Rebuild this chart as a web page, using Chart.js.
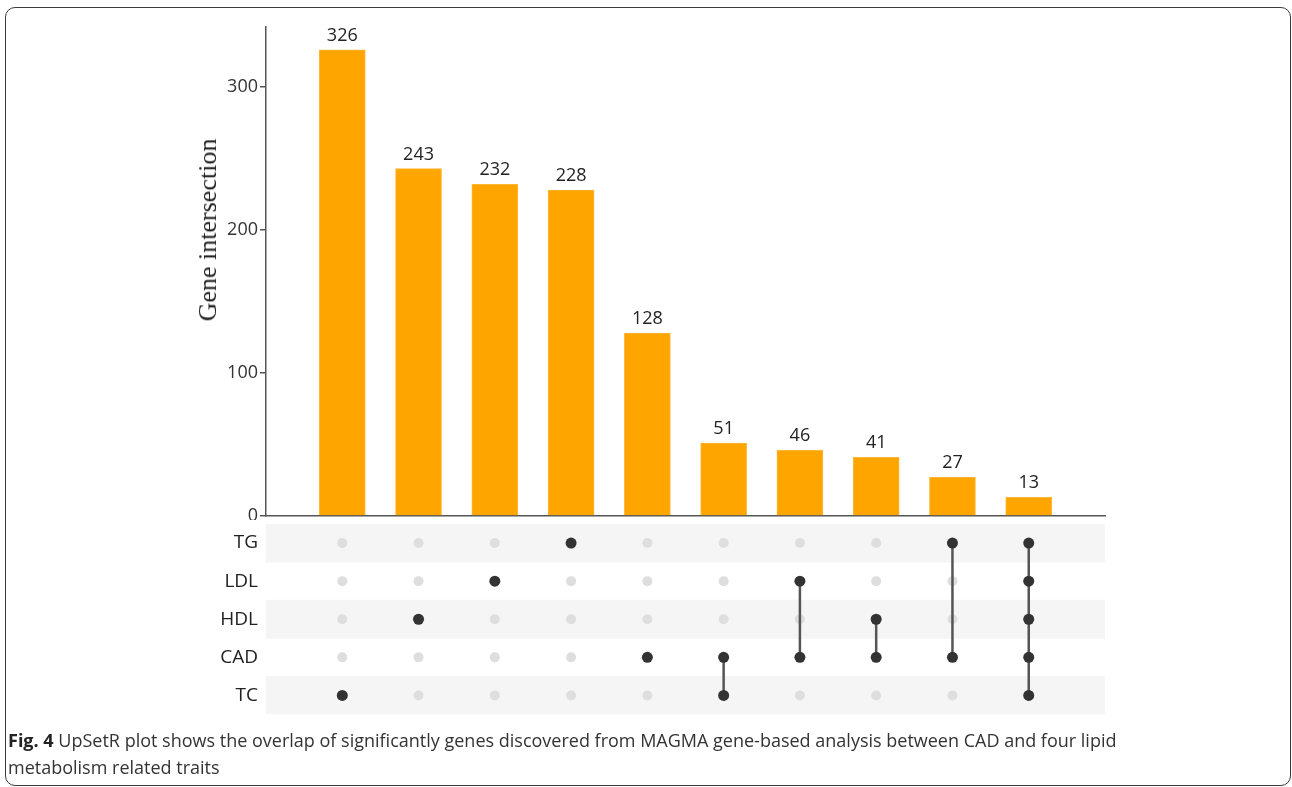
<!DOCTYPE html>
<html>
<head>
<meta charset="utf-8">
<script src="https://cdn.jsdelivr.net/npm/chart.js@4"></script>
<style>
  body { margin: 0; background: #fff; width: 1292px; height: 787px; position: relative; overflow: hidden; font-family: "Open Sans", sans-serif; }
  #frame { position: absolute; left: 5px; top: 7px; width: 1286px; height: 779px; box-sizing: border-box; border: 1.5px solid #3a3a3a; border-radius: 10px; }
  #barChart { position: absolute; left: 0; top: 0; }
  #matrixChart { position: absolute; left: 0; top: 516px; }
  #yTitle { position: absolute; left: 208px; top: 230px; transform: translate(-50%, -50%) rotate(-90deg); font-family: "Liberation Serif", serif; font-size: 26px; color: #222; white-space: nowrap; }
  #caption { position: absolute; left: 8px; top: 727px; width: 1275px; font-size: 18px; line-height: 27px; color: #333; white-space: nowrap; }
  #caption b { color: #222; }
</style>
</head>
<body>
<div id="frame"></div>
<canvas id="barChart" width="1292" height="520"></canvas>
<canvas id="matrixChart" width="1292" height="204"></canvas>
<div id="yTitle">Gene intersection</div>
<div id="caption"><b>Fig. 4</b> UpSetR plot shows the overlap of significantly genes discovered from MAGMA gene-based analysis between CAD and four lipid<br>metabolism related traits</div>
<script>
const sets = ['TG', 'LDL', 'HDL', 'CAD', 'TC'];
const counts = [326, 243, 232, 228, 128, 51, 46, 41, 27, 13];
const members = [
    ['TC'],
    ['HDL'],
    ['LDL'],
    ['TG'],
    ['CAD'],
    ['CAD', 'TC'],
    ['LDL', 'CAD'],
    ['HDL', 'CAD'],
    ['TG', 'CAD'],
    ['TG', 'LDL', 'HDL', 'CAD', 'TC']
];
const yTicks = [0, 100, 200, 300];
const shadedRows = ['TG', 'HDL', 'TC'];

const tickFont = { family: 'Open Sans', size: 18 };
const rowFont = { family: 'Open Sans', size: 19 };

// no extra padding for half tick labels, so both panels line up
function fixAxis(scale) {
    scale.width = 76;
    scale.paddingTop = 0;
    scale.paddingBottom = 0;
}

// value labels above bars
const valueLabels = {
    id: 'valueLabels',
    afterDatasetsDraw(chart) {
        const ctx = chart.ctx;
        const meta = chart.getDatasetMeta(0);
        ctx.save();
        ctx.font = '18px "Open Sans"';
        ctx.fillStyle = '#222';
        ctx.textAlign = 'center';
        ctx.textBaseline = 'alphabetic';
        meta.data.forEach((bar, i) => {
            ctx.fillText(String(counts[i]), bar.x, bar.y - 9);
        });
        ctx.restore();
    }
};

new Chart(document.getElementById('barChart'), {
    type: 'bar',
    data: {
        datasets: [{
            data: counts.map((v, i) => ({ x: i + 1, y: v })),
            backgroundColor: '#ffa500',
            borderColor: '#ffb733',
            borderWidth: 1,
            barThickness: 46
        }]
    },
    options: {
        responsive: false,
        animation: false,
        layout: { padding: { left: 190, right: 187, top: 27, bottom: 4 } },
        plugins: { legend: { display: false }, tooltip: { enabled: false } },
        scales: {
            x: {
                type: 'linear',
                min: 0,
                max: 11,
                offset: false,
                ticks: { display: false, stepSize: 1 },
                grid: { display: false, drawTicks: false },
                border: { display: true, color: '#555', width: 1.5 }
            },
            y: {
                min: 0,
                max: 342,
                afterBuildTicks(scale) {
                    scale.ticks = yTicks.map(v => ({ value: v }));
                },
                afterFit: fixAxis,
                ticks: { font: tickFont, color: '#333', padding: 2 },
                grid: { drawOnChartArea: false, drawTicks: true, tickLength: 6, color: '#555', lineWidth: 1.5 },
                border: { display: true, color: '#555', width: 1.5 }
            }
        }
    },
    plugins: [valueLabels]
});

// matrix points
const offDots = [];
const onDots = [];
members.forEach((m, i) => {
    sets.forEach(s => {
        if (m.includes(s)) onDots.push({ x: i + 1, y: s });
        else offDots.push({ x: i + 1, y: s });
    });
});

const connectors = [];
members.forEach((m, i) => {
    if (m.length < 2) return;
    const idx = m.map(s => sets.indexOf(s)).sort((a, b) => a - b);
    connectors.push({
        type: 'line',
        data: [{ x: i + 1, y: sets[idx[0]] }, { x: i + 1, y: sets[idx[idx.length - 1]] }],
        borderColor: '#555',
        borderWidth: 2.5,
        pointRadius: 0,
        showLine: true,
        order: 2
    });
});

new Chart(document.getElementById('matrixChart'), {
    type: 'scatter',
    data: {
        datasets: [
            {
                type: 'bar',
                indexAxis: 'y',
                data: shadedRows.map(s => ({ y: s, x: [0, 11] })),
                backgroundColor: '#f5f5f5',
                barPercentage: 1,
                categoryPercentage: 1,
                order: 4
            },
            {
                data: offDots,
                pointRadius: 5,
                pointBackgroundColor: '#dedede',
                pointBorderWidth: 0,
                order: 3
            },
            ...connectors,
            {
                data: onDots,
                pointRadius: 5.5,
                pointBackgroundColor: '#333',
                pointBorderWidth: 0,
                order: 1
            }
        ]
    },
    options: {
        responsive: false,
        animation: false,
        layout: { padding: { left: 190, right: 187, top: 8, bottom: 4 } },
        plugins: { legend: { display: false }, tooltip: { enabled: false } },
        scales: {
            x: {
                type: 'linear',
                min: 0,
                max: 11,
                offset: false,
                display: false
            },
            y: {
                type: 'category',
                labels: sets,
                offset: true,
                afterFit: fixAxis,
                ticks: { font: rowFont, color: '#222', padding: 8 },
                grid: { display: false, drawTicks: false },
                border: { display: false }
            }
        }
    }
});
</script>
</body>
</html>
